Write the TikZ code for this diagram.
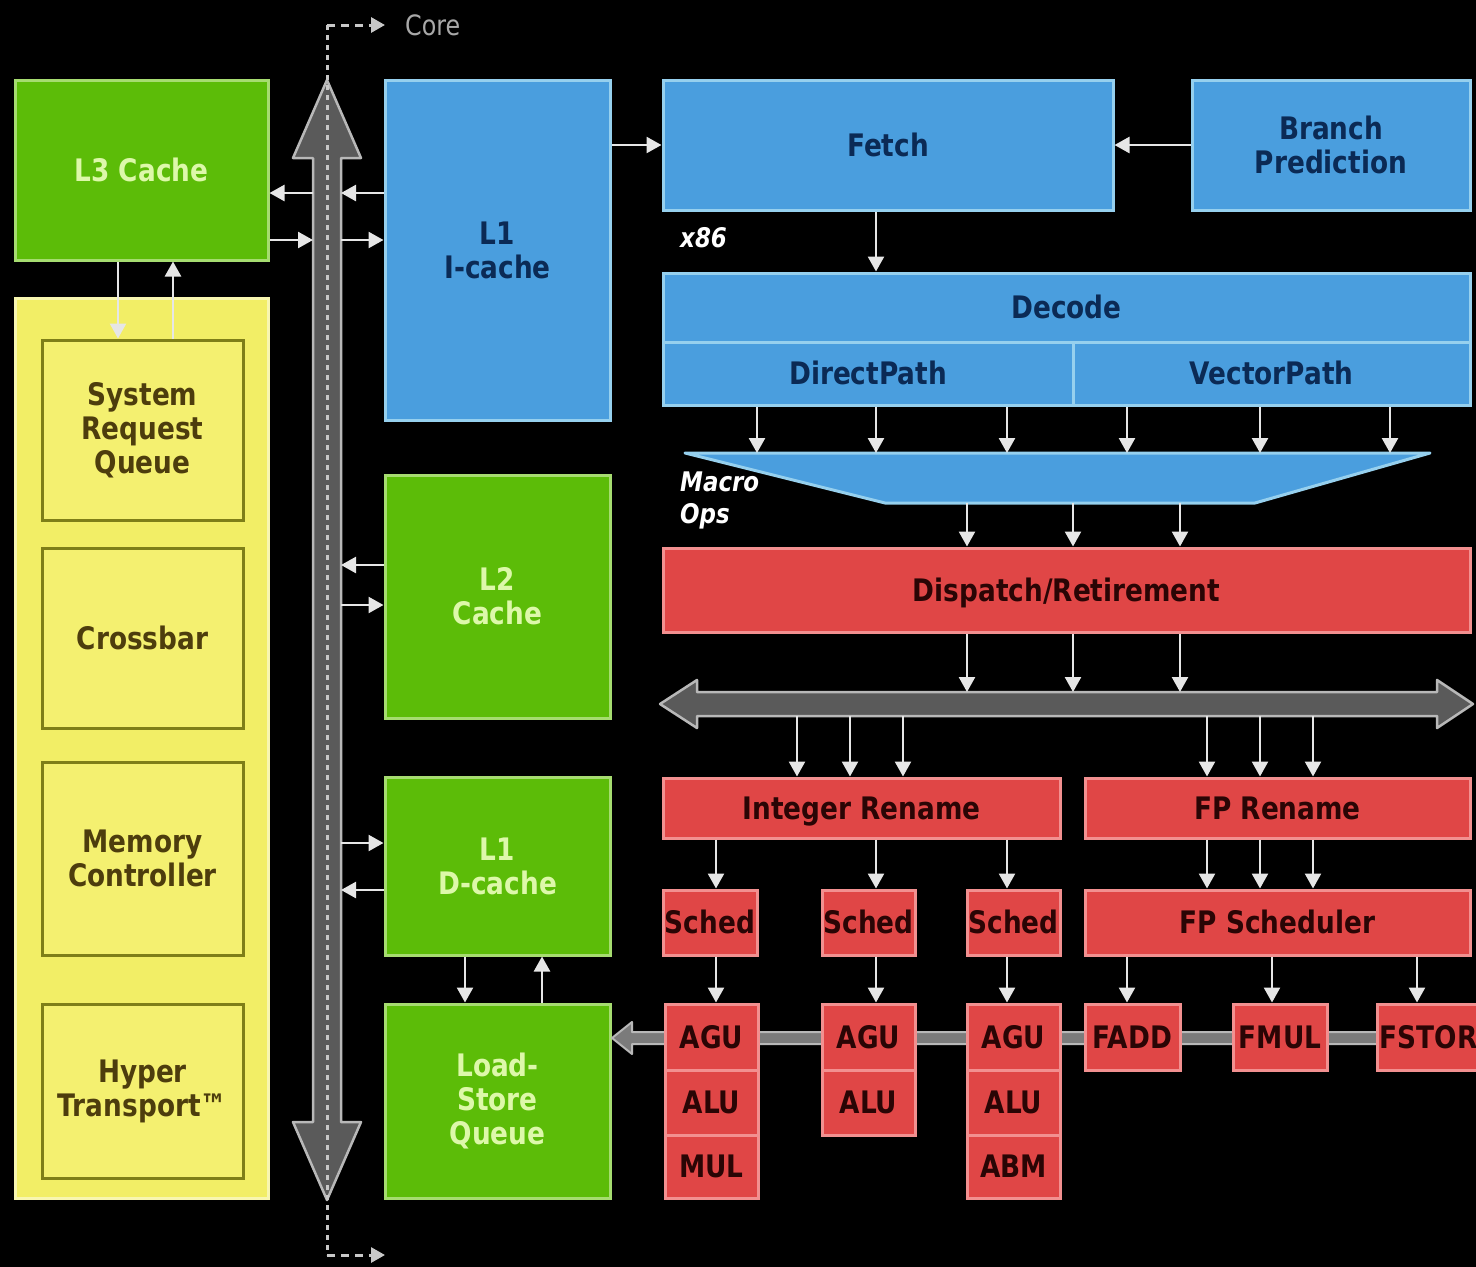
\documentclass[tikz,border=0pt]{standalone}
\usepackage{fontspec}
\usetikzlibrary{arrows.meta}
\newfontfamily\lab{DejaVu Sans}[FakeStretch=0.85]
\definecolor{greenfill}{HTML}{5CBC08}
\definecolor{greenedge}{HTML}{A6DC70}
\definecolor{greentext}{HTML}{DDF8AA}
\definecolor{bluefill}{HTML}{4A9EDE}
\definecolor{blueedge}{HTML}{96D0EE}
\definecolor{bluetext}{HTML}{0B2A55}
\definecolor{redfill}{HTML}{E04646}
\definecolor{rededge}{HTML}{F29090}
\definecolor{redtext}{HTML}{2A0505}
\definecolor{yelfill}{HTML}{F2EE66}
\definecolor{yeledge}{HTML}{F8F6B0}
\definecolor{yelinner}{HTML}{F4F070}
\definecolor{yelinedge}{HTML}{7E7E18}
\definecolor{yeltext}{HTML}{4D3D0D}
\definecolor{busfill}{HTML}{5A5A5A}
\definecolor{busedge}{HTML}{B8B8B8}
\definecolor{dotc}{HTML}{C8C8C8}
\definecolor{arrowc}{HTML}{E6E6E6}
\definecolor{corec}{HTML}{A8A8A8}
\tikzset{
  box/.style={line width=3pt, inner sep=0pt, align=center,
    font=\lab\bfseries\fontsize{31}{34}\selectfont},
  oneline/.style={text height=22pt, text depth=0pt},
  greenbox/.style={box, draw=greenedge, fill=greenfill, text=greentext},
  bluebox/.style={box, draw=blueedge, fill=bluefill, text=bluetext},
  redbox/.style={box, draw=rededge, fill=redfill, text=redtext, oneline},
  yelbox/.style={box, draw=yelinedge, fill=yelinner, text=yeltext},
  arr/.style={draw=arrowc, line width=2.5pt, -{Triangle[width=16pt,length=15pt]}},
  bigbus/.style={fill=busfill, draw=busedge, line width=2.5pt, line join=round},
  itl/.style={text=white, inner sep=0pt, anchor=west,
    font=\lab\bfseries\itshape\fontsize{27}{32}\selectfont, align=left}
}
\begin{document}
\begin{tikzpicture}[x=1pt,y=-1pt]
\fill[black] (0,0) rectangle (1476,1267);
\useasboundingbox (0,0) rectangle (1476,1267);

% ---- vertical core bus ----
\coordinate (busL) at (313,0);
\coordinate (busR) at (341,0);
\coordinate (ctop) at (327,25);
\coordinate (cbot) at (327,1255);
\filldraw[bigbus] (327,80) -- (361,158) -- (341,158) -- (341,1122) -- (361,1122)
  -- (327,1200) -- (293,1122) -- (313,1122) -- (313,158) -- (293,158) -- cycle;
\draw[dotc, line width=3pt, dash pattern=on 5pt off 5pt] (ctop) -- (cbot);
\node[text=corec, font=\lab\fontsize{28}{30}\selectfont, anchor=west, inner sep=0pt] (core) at (405,25) {Core};
\coordinate (cend) at (385,25);
\coordinate (bend) at (385,1255);
\draw[dotc, line width=3pt, dash pattern=on 8pt off 6pt, -{Triangle[width=15pt,length=14pt]}] (ctop) -- (cend);
\draw[dotc, line width=3pt, dash pattern=on 8pt off 6pt, -{Triangle[width=15pt,length=14pt]}] (cbot) -- (bend);

% ---- left column ----
\node[greenbox, oneline, minimum width=253pt, minimum height=180pt] (L3) at (141.5,170) {L3 Cache};
\node[box, draw=yeledge, fill=yelfill, minimum width=253pt, minimum height=900pt] (yel) at (141.5,748) {};
\node[yelbox, minimum width=201pt, minimum height=180pt] (SRQ) at (142.5,430) {System\\Request\\Queue};
\node[yelbox, oneline, minimum width=201pt, minimum height=180pt] (XB) at (142.5,638) {Crossbar};
\node[yelbox, minimum width=201pt, minimum height=193pt] (MC) at (142.5,858.5) {Memory\\Controller};
\node[yelbox, minimum width=201pt, minimum height=174pt] (HT) at (142.5,1091) {Hyper\\Transport™};

% ---- caches ----
\node[bluebox, minimum width=225pt, minimum height=340pt] (L1I) at (497.5,250) {L1\\I-cache};
\node[greenbox, minimum width=225pt, minimum height=243pt] (L2) at (497.5,596.5) {L2\\Cache};
\node[greenbox, minimum width=225pt, minimum height=178pt] (L1D) at (497.5,866) {L1\\D-cache};
\node[greenbox, minimum width=225pt, minimum height=194pt] (LSQ) at (497.5,1101) {Load-\\Store\\Queue};

% ---- front end ----
\node[bluebox, oneline, minimum width=450pt, minimum height=130pt] (Fetch) at (888,145) {Fetch};
\node[bluebox, minimum width=278pt, minimum height=130pt] (BP) at (1331,145) {Branch\\Prediction};
\node[itl] (x86) at (680,238) {x86};
\node[bluebox, oneline, minimum width=807pt, minimum height=69pt] (Dec) at (1066.5,307.5) {Decode};
\node[bluebox, oneline, minimum width=410pt, minimum height=63pt] (DP) at (868,373.5) {DirectPath};
\node[bluebox, oneline, minimum width=397pt, minimum height=63pt] (VP) at (1271.5,373.5) {VectorPath};

% macro-op trapezoid
\coordinate (trapT) at (0,453);
\coordinate (trapB) at (0,503);
\filldraw[fill=bluefill, draw=blueedge, line width=3pt, line join=round]
  (685,453) -- (1430,453) -- (1255,503) -- (885,503) -- cycle;
\node[itl] (mops) at (680,500) {Macro\\Ops};

\node[redbox, minimum width=807pt, minimum height=84pt] (Disp) at (1066.5,590) {Dispatch/Retirement};

% horizontal bus
\coordinate (hbT) at (0,692);
\coordinate (hbB) at (0,716);
\filldraw[bigbus] (660,704) -- (697,680) -- (697,692) -- (1437,692) -- (1437,680) -- (1473,704)
  -- (1437,728) -- (1437,716) -- (697,716) -- (697,728) -- cycle;

\node[redbox, minimum width=397pt, minimum height=60pt] (IR) at (861.5,808) {Integer Rename};
\node[redbox, minimum width=385pt, minimum height=60pt] (FPR) at (1277.5,808) {FP Rename};
\node[redbox, minimum width=94pt, minimum height=65pt] (S1) at (710,922.5) {Sched};
\node[redbox, minimum width=93pt, minimum height=65pt] (S2) at (868.5,922.5) {Sched};
\node[redbox, minimum width=93pt, minimum height=65pt] (S3) at (1013.5,922.5) {Sched};
\node[redbox, minimum width=385pt, minimum height=65pt] (FPS) at (1277.5,922.5) {FP Scheduler};

% execution result bus
\filldraw[fill=busfill!80!white, draw=busedge, line width=2pt, line join=round]
  (612,1038) -- (632,1022) -- (632,1032) -- (1480,1032) -- (1480,1044) -- (632,1044) -- (632,1054) -- cycle;

\node[redbox, minimum width=93pt, minimum height=66pt] (AGU1) at (711.5,1037) {AGU};
\node[redbox, minimum width=93pt, minimum height=65pt] (ALU1) at (711.5,1102.5) {ALU};
\node[redbox, minimum width=93pt, minimum height=63pt] (MUL) at (711.5,1166.5) {MUL};
\node[redbox, minimum width=93pt, minimum height=66pt] (AGU2) at (868.5,1037) {AGU};
\node[redbox, minimum width=93pt, minimum height=65pt] (ALU2) at (868.5,1102.5) {ALU};
\node[redbox, minimum width=93pt, minimum height=66pt] (AGU3) at (1013.5,1037) {AGU};
\node[redbox, minimum width=93pt, minimum height=65pt] (ALU3) at (1013.5,1102.5) {ALU};
\node[redbox, minimum width=93pt, minimum height=63pt] (ABM) at (1013.5,1166.5) {ABM};
\node[redbox, minimum width=95pt, minimum height=66pt] (FADD) at (1132.5,1037) {FADD};
\node[redbox, minimum width=94pt, minimum height=66pt] (FMUL) at (1280,1037) {FMUL};
\node[redbox, minimum width=103pt, minimum height=66pt] (FSTOR) at (1428.5,1037) {FSTOR};

% ---- connectors ----
\draw[arr] (busL |- 0,193) -- (L3.east |- 0,193);
\draw[arr] (L1I.west |- 0,193) -- (busR |- 0,193);
\draw[arr] (L3.east |- 0,240) -- (busL |- 0,240);
\draw[arr] (busR |- 0,240) -- (L1I.west |- 0,240);
\draw[arr] (L2.west |- 0,565) -- (busR |- 0,565);
\draw[arr] (busR |- 0,605) -- (L2.west |- 0,605);
\draw[arr] (busR |- 0,843) -- (L1D.west |- 0,843);
\draw[arr] (L1D.west |- 0,890) -- (busR |- 0,890);
\draw[arr] (L1D.south -| 465,0) -- (LSQ.north -| 465,0);
\draw[arr] (LSQ.north -| 542,0) -- (L1D.south -| 542,0);
\draw[arr] (L3.south -| 118,0) -- (SRQ.north -| 118,0);
\draw[arr] (SRQ.north -| 173,0) -- (L3.south -| 173,0);

\draw[arr] (L1I.east |- Fetch.west) -- (Fetch.west);
\draw[arr] (BP.west) -- (Fetch.east);
\draw[arr] (Fetch.south -| 876,0) -- (Dec.north -| 876,0);
\foreach \x in {757,876,1007} \draw[arr] (DP.south -| \x,0) -- (trapT -| \x,0);
\foreach \x in {1127,1260,1390} \draw[arr] (VP.south -| \x,0) -- (trapT -| \x,0);
\foreach \x in {967,1073,1180} {
  \draw[arr] (trapB -| \x,0) -- (Disp.north -| \x,0);
  \draw[arr] (Disp.south -| \x,0) -- (hbT -| \x,0);
}
\foreach \x in {797,850,903} \draw[arr] (hbB -| \x,0) -- (IR.north -| \x,0);
\foreach \x in {1207,1260,1313} {
  \draw[arr] (hbB -| \x,0) -- (FPR.north -| \x,0);
  \draw[arr] (FPR.south -| \x,0) -- (FPS.north -| \x,0);
}
\draw[arr] (IR.south -| 716,0) -- (S1.north -| 716,0);
\draw[arr] (IR.south -| 876,0) -- (S2.north -| 876,0);
\draw[arr] (IR.south -| 1007,0) -- (S3.north -| 1007,0);
\draw[arr] (S1.south -| 716,0) -- (AGU1.north -| 716,0);
\draw[arr] (S2.south -| 876,0) -- (AGU2.north -| 876,0);
\draw[arr] (S3.south -| 1007,0) -- (AGU3.north -| 1007,0);
\draw[arr] (FPS.south -| 1127,0) -- (FADD.north -| 1127,0);
\draw[arr] (FPS.south -| 1272,0) -- (FMUL.north -| 1272,0);
\draw[arr] (FPS.south -| 1417,0) -- (FSTOR.north -| 1417,0);
\end{tikzpicture}
\end{document}
